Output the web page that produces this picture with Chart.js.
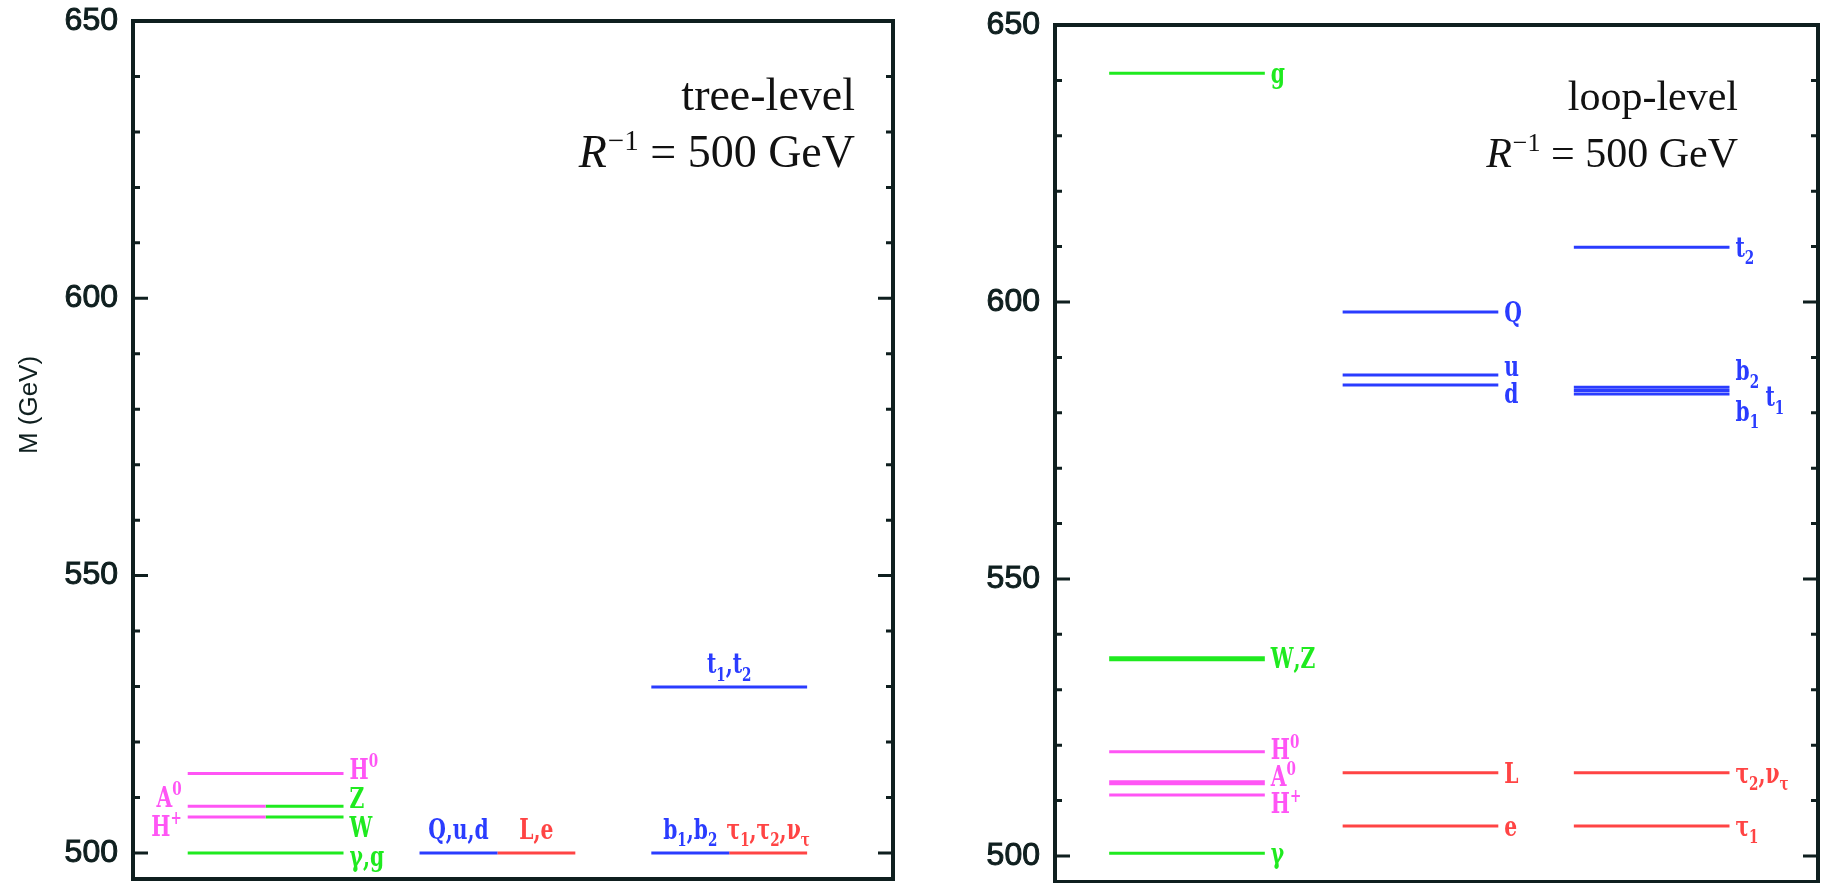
<!DOCTYPE html>
<html>
<head>
<meta charset="utf-8">
<title>KK mass spectrum</title>
<script src="https://cdn.jsdelivr.net/npm/chart.js@4.4.1/dist/chart.umd.min.js"></script>
<style>
  body { margin: 0; background: #fff; }
  .panel { position: absolute; top: 0; height: 883px; }
  #treeBox { left: 0; width: 905px; }
  #loopBox { left: 915px; width: 918px; }
</style>
</head>
<body>
<div class="panel" id="treeBox"><canvas id="treeChart"></canvas></div>
<div class="panel" id="loopBox"><canvas id="loopChart"></canvas></div>
<script>
// tree-level first KK masses, R^-1 = 500 GeV
var treeLabels  = ['H^0', 'A^0', 'H^+', 'Z', 'W', 'γ,g', 'Q,u,d', 'L,e', 't_1,t_2', 'b_1,b_2', 'τ_1,τ_2,ν_τ'];
var treeMasses  = [514.3, 508.4, 506.5, 508.4, 506.5, 500.0, 500.0, 500.0, 529.9, 500.0, 500.0];
var treeColumns = [0, 0, 0, 0, 0, 0, 1, 1, 2, 2, 2];
var treeHalves  = ['all', 'left', 'left', 'right', 'right', 'all', 'left', 'right', 'all', 'left', 'right'];
var treeTypes   = ['higgs', 'higgs', 'higgs', 'gauge', 'gauge', 'gauge', 'quark', 'lepton', 'quark', 'quark', 'lepton'];

// loop-level first KK masses
var loopLabels  = ['g', 'W,Z', 'H^0', 'A^0', 'H^+', 'γ', 'Q', 'u', 'd', 'L', 'e', 't_2', 'b_2', 't_1', 'b_1', 'τ_2,ν_τ', 'τ_1'];
var loopMasses  = [641.3, 535.6, 518.8, 513.2, 511.0, 500.5, 598.2, 586.8, 585.0, 515.0, 505.4, 609.9, 584.6, 584.0, 583.4, 515.0, 505.4];
var loopColumns = [0, 0, 0, 0, 0, 0, 1, 1, 1, 1, 1, 2, 2, 2, 2, 2, 2];
var loopTypes   = ['gauge', 'gauge', 'higgs', 'higgs', 'higgs', 'gauge', 'quark', 'quark', 'quark', 'lepton', 'lepton',
                   'quark', 'quark', 'quark', 'quark', 'lepton', 'lepton'];

var yMin = 495.3, yMax = 650;
var yMajorTicks = [500, 550, 600, 650];
var yMinorStep = 10;

// styles
var typeColors = { gauge: '#1fea1f', higgs: '#ff55f5', quark: '#2a3cff', lepton: '#ff4444' };
var loopThick = ['W,Z', 'A^0'];
var sideLabels = ['t_1'];
var axisColor = '#0f1f1f';
var labelFont = '"DejaVu Serif"';

function levelDatasets(labels, masses, columns, halves, types, colStart, colWidth, thick) {
  return labels.map(function (lab, i) {
    var x0 = colStart[columns[i]];
    var h = halves ? halves[i] : 'all';
    var a = h === 'right' ? x0 + colWidth / 2 : x0;
    var b = h === 'left' ? x0 + colWidth / 2 : x0 + colWidth;
    return {
      label: lab,
      data: [{ x: a, y: masses[i] }, { x: b, y: masses[i] }],
      borderColor: typeColors[types[i]],
      borderWidth: thick.indexOf(lab) >= 0 ? 5 : 3,
      pointRadius: 0,
      tension: 0,
      levelColumn: columns[i],
      levelHalf: h
    };
  });
}

function parseRich(text) {
  var parts = [];
  for (var i = 0; i < text.length; i++) {
    var c = text[i];
    if ((c === '_' || c === '^') && i + 1 < text.length) {
      parts.push({ t: text[i + 1], kind: c === '_' ? 'sub' : 'sup' });
      i++;
    } else {
      parts.push({ t: c, kind: 'base' });
    }
  }
  return parts;
}

// label with sub/superscripts, squeezed a bit sideways; y = middle of the letters
function drawRich(ctx, text, x, y, align, size, color) {
  var parts = parseRich(text);
  var sx = 0.75;
  ctx.save();
  ctx.fillStyle = color;
  ctx.textAlign = 'left';
  ctx.textBaseline = 'alphabetic';
  var w = 0;
  parts.forEach(function (p) {
    p.size = p.kind === 'base' ? size : Math.round(size * 0.68);
    ctx.font = 'bold ' + p.size + 'px ' + labelFont;
    p.w = ctx.measureText(p.t).width;
    w += p.w;
  });
  var cx = align === 'right' ? -w : (align === 'center' ? -w / 2 : 0);
  ctx.translate(x, y);
  ctx.scale(sx, 1);
  var base = size * 0.36;
  parts.forEach(function (p) {
    ctx.font = 'bold ' + p.size + 'px ' + labelFont;
    var dy = p.kind === 'sub' ? size * 0.28 : (p.kind === 'sup' ? -size * 0.42 : 0);
    ctx.fillText(p.t, cx, base + dy);
    cx += p.w;
  });
  ctx.restore();
}

// push overlapping labels apart; labels set to the side need less room
function spreadLabels(items, gap) {
  items.sort(function (p, q) { return p.ly - q.ly; });
  for (var it = 0; it < 80; it++) {
    for (var j = 1; j < items.length; j++) {
      var need = (items[j].side === 'aside' || items[j - 1].side === 'aside') ? gap * 0.75 : gap;
      var d = items[j].ly - items[j - 1].ly;
      if (d < need) {
        var push = (need - d) / 2;
        items[j - 1].ly -= push;
        items[j].ly += push;
      }
    }
  }
}

var levelLabelsPlugin = {
  id: 'levelLabels',
  afterDatasetsDraw: function (chart, args, opts) {
    var ctx = chart.ctx;
    var size = opts.size;
    var groups = {};
    chart.data.datasets.forEach(function (ds, i) {
      var pts = chart.getDatasetMeta(i).data;
      var side, key;
      if (opts.mode === 'tree') {
        if (ds.levelColumn > 0) side = 'top';
        else side = ds.levelHalf === 'left' ? 'left' : 'right';
        key = ds.levelColumn + side;
      } else {
        side = sideLabels.indexOf(ds.label) >= 0 ? 'aside' : 'right';
        key = ds.levelColumn + 'right';
      }
      var item = { ds: ds, x0: pts[0].x, x1: pts[1].x, y: pts[0].y, ly: pts[0].y, side: side };
      (groups[key] = groups[key] || []).push(item);
    });
    Object.keys(groups).forEach(function (k) {
      var g = groups[k];
      if (g[0].side !== 'top') spreadLabels(g, opts.gap);
      g.forEach(function (it) {
        var col = it.ds.borderColor;
        if (it.side === 'top') {
          drawRich(ctx, it.ds.label, (it.x0 + it.x1) / 2, it.y - 14 - size * 0.36, 'center', size, col);
        } else if (it.side === 'left') {
          drawRich(ctx, it.ds.label, it.x0 - 6, it.ly, 'right', size, col);
        } else if (it.side === 'aside') {
          drawRich(ctx, it.ds.label, it.x1 + 36, it.ly + 6, 'left', size, col);
        } else {
          drawRich(ctx, it.ds.label, it.x1 + 6, it.ly, 'left', size, col);
        }
      });
    });
  }
};

var framePlugin = {
  id: 'frame',
  afterDraw: function (chart, args, opts) {
    var ctx = chart.ctx, area = chart.chartArea, y = chart.scales.y;
    ctx.save();
    ctx.strokeStyle = axisColor;
    ctx.lineWidth = 4;
    ctx.strokeRect(area.left, area.top, area.right - area.left, area.bottom - area.top);
    ctx.lineWidth = 3;
    y.ticks.forEach(function (t) {
      var py = y.getPixelForValue(t.value);
      var len = yMajorTicks.indexOf(t.value) >= 0 ? 15 : 7;
      ctx.beginPath();
      ctx.moveTo(area.left, py);
      ctx.lineTo(area.left + len, py);
      ctx.moveTo(area.right, py);
      ctx.lineTo(area.right - len, py);
      ctx.stroke();
    });

    // panel caption: "xxx-level" / R^-1 = 500 GeV
    var fs = opts.size;
    var xr = area.right - opts.right;
    ctx.fillStyle = '#111';
    ctx.textBaseline = 'alphabetic';
    ctx.textAlign = 'right';
    ctx.font = fs + 'px "Liberation Serif"';
    ctx.fillText(opts.caption, xr, area.top + opts.rows[0]);
    var yb = area.top + opts.rows[1];
    var rest = ' = 500 GeV';
    ctx.fillText(rest, xr, yb);
    var w1 = ctx.measureText(rest).width;
    ctx.font = Math.round(fs * 0.62) + 'px "Liberation Serif"';
    ctx.fillText('\u22121', xr - w1, yb - fs * 0.38);
    var w2 = ctx.measureText('\u22121').width;
    ctx.font = 'italic ' + fs + 'px "Liberation Serif"';
    ctx.fillText('R', xr - w1 - w2 - 1, yb);

    if (opts.title) {
      ctx.translate(opts.title.x, opts.title.y);
      ctx.rotate(-Math.PI / 2);
      ctx.textAlign = 'center';
      ctx.textBaseline = 'middle';
      ctx.fillStyle = axisColor;
      ctx.font = '26px "Liberation Sans"';
      ctx.fillText(opts.title.text, 0, 0);
    }
    ctx.restore();
  }
};

function makeChart(id, datasets, axisWidth, pad, frameOpts, labelOpts) {
  return new Chart(document.getElementById(id), {
    type: 'line',
    data: { datasets: datasets },
    options: {
      responsive: true,
      maintainAspectRatio: false,
      animation: false,
      layout: { padding: pad },
      plugins: {
        legend: { display: false },
        tooltip: { enabled: false },
        frame: frameOpts,
        levelLabels: labelOpts
      },
      scales: {
        x: { type: 'linear', min: 0, max: 10, display: false },
        y: {
          type: 'linear',
          min: yMin,
          max: yMax,
          grid: { display: false, drawTicks: false },
          border: { display: false },
          ticks: {
            padding: 15,
            color: axisColor,
            textStrokeColor: axisColor,
            textStrokeWidth: 1,
            font: { family: 'Liberation Sans', size: 32 },
            callback: function (v) { return yMajorTicks.indexOf(v) >= 0 ? String(v) : ''; }
          },
          afterBuildTicks: function (s) {
            var t = [];
            for (var v = yMajorTicks[0]; v <= yMax; v += yMinorStep) t.push({ value: v });
            s.ticks = t;
          },
          afterFit: function (s) {
            s.width = axisWidth;
            s.paddingTop = 0;
            s.paddingBottom = 0;
          }
        }
      }
    },
    plugins: [framePlugin, levelLabelsPlugin]
  });
}

makeChart('treeChart',
  levelDatasets(treeLabels, treeMasses, treeColumns, treeHalves, treeTypes, [0.72, 3.77, 6.82], 2.05, []),
  133, { top: 21, bottom: 4, left: 0, right: 12 },
  { caption: 'tree-level', size: 46, right: 38, rows: [89, 146], title: { text: 'M (GeV)', x: 30, y: 405 } },
  { mode: 'tree', size: 27, gap: 29 });

makeChart('loopChart',
  levelDatasets(loopLabels, loopMasses, loopColumns, null, loopTypes, [0.71, 3.77, 6.80], 2.04, loopThick),
  140, { top: 25, bottom: 1, left: 0, right: 15 },
  { caption: 'loop-level', size: 42, right: 80, rows: [85, 142] },
  { mode: 'loop', size: 27, gap: 27 });
</script>
</body>
</html>
